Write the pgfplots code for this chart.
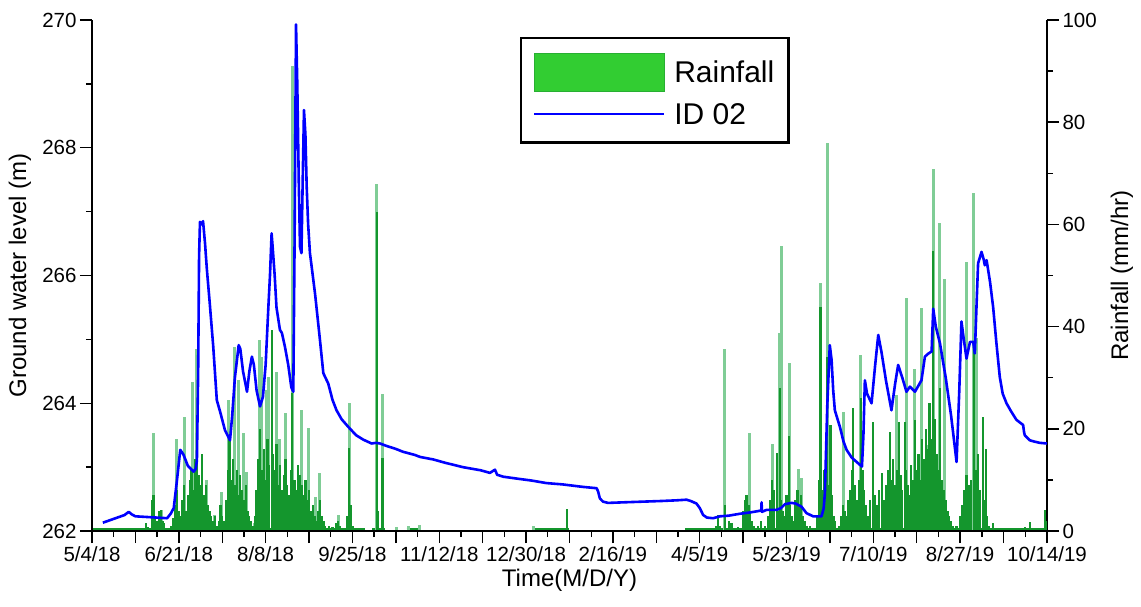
\documentclass[border=0pt]{standalone}
\usepackage{pgfplots}
\pgfplotsset{compat=1.18}
\usepackage{fontspec}
\setmainfont{Liberation Sans}
\definecolor{rainlight}{RGB}{128,205,150}
\definecolor{raindark}{RGB}{20,150,45}
\definecolor{legfill}{RGB}{50,205,50}
\definecolor{legdraw}{RGB}{40,175,50}
\begin{document}
\begin{tikzpicture}
\pgfplotsset{
  common/.style={
    scale only axis, width=955pt, height=511pt,
    xmin=0, xmax=528,
    tick align=outside,
    major tick length=12pt, minor tick length=6pt,
    tick style={line width=1.4pt, black},
    axis line style={line width=1.6pt},
    ticklabel style={font=\fontsize{20.5}{24}\selectfont},
    /pgf/number format/assume math mode=true,
    label style={font=\fontsize{24}{28}\selectfont},
  }
}
% ---------- rainfall (right axis) ----------
\begin{axis}[common,
  axis x line=none, axis y line*=right,
  ymin=0, ymax=100, ytick={0,20,...,100}, minor ytick={10,30,...,90},
  ylabel={Rainfall (mm/hr)},
  ylabel style={at={(axis description cs:1.0785,0.5)}, anchor=center},
]
% baseline of recorded (zero) rainfall
\addplot[raindark, line width=3pt, forget plot] coordinates {(0,0.35) (151,0.35)};
\addplot[raindark, line width=3pt, forget plot] coordinates {(155,0.35) (162,0.35)};
\addplot[raindark, line width=3pt, forget plot] coordinates {(174,0.35) (182,0.35)};
\addplot[raindark, line width=3pt, forget plot] coordinates {(243.5,0.35) (263.5,0.35)};
\addplot[raindark, line width=3pt, forget plot] coordinates {(328,0.35) (528,0.35)};
% light (tall) bars
\addplot[ycomb, rainlight, line width=3pt, forget plot] coordinates {
(33.9,19.1) (38.5,4.2) (46.8,18.1) (51.4,22.4) (55.7,29.2) (57.9,35.7) (63.4,10) (68.0,3.1)
(71.7,7.7) (75.3,25.6) (79.0,36.1) (80.9,29.5) (84.0,19.1) (85.5,11.6) (89.6,1.5) (92.5,37.4)
(93.8,34.1) (96.6,27.6) (97.5,30.2) (102.1,31.2) (103.9,18.1) (107.0,23.0) (110.7,90.9)
(115.9,23.7) (119.6,20.1) (123.3,6.7) (126,11.3) (136.2,3.1) (142.2,25.1) (157.4,68) (160.6,26.9)
(168.4,0.8) (174.9,1) (181.3,1.2) (243.9,1)
(349.9,35.7) (363.7,19.1) (376.2,17) (380.3,38.7) (381.2,55.8) (385.4,32.8) (390.4,12.1)
(392.2,10.3) (402.8,48.5) (406.4,75.9) (415.3,23.2) (425.1,34.4) (444.7,26.6) (450.3,45.5)
(455,31.8) (458.6,43.6) (461.4,16.8) (465.1,70.9) (468.8,60.2) (471.5,49.4) (483.5,52.7)
(487.6,66.2) (489,37.7)
};
% dark (dense) bars
\addplot[ycomb, raindark, line width=2.2pt, forget plot] coordinates {
(30,1.5) (31,0.8) (33,6) (34,7) (35,3) (36,2) (37,4) (38,4.2) (39,2) (40,1.5) (42,0.5) (44,1)
(45,2.5) (46,5) (47,8) (48,4) (49,3) (50,6) (51,9) (52,4) (53,7) (54,10) (55,12) (56,8) (57,14)
(58,16) (59,11) (60,9) (61,15) (62,7) (63,9) (64,5) (65,4) (66,3) (67,2) (68,3) (69,1) (70,2)
(71,5) (72,3) (73,2) (74,6) (75,12) (76,18) (77,10) (78,14) (79,9) (80,12) (81,7) (82,11) (83,8)
(84,6) (85,9) (86,4) (87,3) (88,2) (89,1) (90,3) (91,8) (92,14) (93,20) (94,12) (95,16) (96,10)
(97,18) (98,13) (99.3,39.3) (100,15) (101,12) (102,17) (103,9) (104,13) (105,8) (106,11) (107,14)
(108,9) (109,7) (110,12) (110.7,27) (112,10) (113,8) (114,13) (115,11) (116,9) (117,7) (118,10)
(119,6) (120,8) (121,4) (122,5) (123,3) (124,2) (125,4) (126,6) (127,3) (128,2) (129,1) (131,1)
(133,0.8) (135,1.5) (136,2) (137,1) (141,3) (142.2,16.2) (143,5) (144,1) (157.4,62.5) (158,4)
(160.6,14.2) (161,3) (262.4,4.4)
(345,1) (346.2,3.1) (347,1) (350,5) (352,2) (353.6,1.5) (357,0.8) (360,4) (361,6) (361.9,7)
(363,5) (364,4) (365,2) (366,1) (368,1) (370,2) (372,1) (374,3) (375,6) (376,10) (377,8)
(378.8,15.2) (379,4) (380.3,28) (381,6) (382,4) (383,3) (384,7) (385.4,18.5) (386,5) (387,3)
(388,2) (389,6) (390,8) (391,5) (392,7) (393,3) (394,2) (395,1) (397,1) (399,0.5) (401,3) (402,10)
(402.8,43.9) (404,8) (405,12) (406.4,34) (407,9) (408.3,20.7) (409,7) (410,3) (411,2) (413,1)
(414,3) (415,5) (416,4) (417,3) (418,6) (419,8) (420,12) (420.8,24) (422,9) (423,6) (424,10)
(425.1,26) (426,12) (427,8) (428,5) (429,3) (430,6) (431.6,21.4) (432,10) (433,7) (434,5) (435,8)
(436.6,11.3) (438,6) (439,9) (440,12) (441.1,19.4) (442,10) (443,14) (444,9) (445,12) (446.3,21.4)
(447,11) (448,8) (449.4,21.4) (450,12) (451,9) (452,7) (453,13) (454,10) (455,21.7) (456,12)
(457,15) (458,10) (459,18) (460,14) (461,20) (462,16) (463,25) (464,18) (465.1,54.7) (466,22)
(467,15) (468,12) (468.8,27.9) (470,10) (471,8) (472,6) (473,4) (474,3) (475,2) (476,1) (478,1)
(480,3) (481,5) (482,8) (483.5,11) (484,7) (485,9) (486,10) (487.6,37) (488.5,12) (489.5,10)
(490,15) (491,8) (492.7,22.4) (493,6) (494.2,16) (495,3) (496,1) (498.2,1.5) (500,0.5) (510,0.5)
(516,0.8) (518.5,1.8) (522,0.5) (526.8,4.1) (527.5,2)
};
\end{axis}
% ---------- ground water level (left axis) ----------
\begin{axis}[common,
  axis x line*=bottom, axis y line*=left,
  ymin=262, ymax=270, ytick={262,264,...,270}, minor ytick={263,265,...,269},
  xtick={0,24,...,528},
  xticklabels={5/4/18,,6/21/18,,8/8/18,,9/25/18,,11/12/18,,12/30/18,,2/16/19,,4/5/19,,5/23/19,,7/10/19,,8/27/19,,10/14/19},
  minor xtick={12,36,...,516},
  xlabel={Time(M/D/Y)},
  xlabel style={at={(axis description cs:0.5,-0.0959)}, anchor=center},
  ylabel={Ground water level (m)},
  ylabel style={at={(axis description cs:-0.0754,0.5)}, anchor=center},
  legend style={at={(axis description cs:0.448,0.967)}, anchor=north west,
    draw=black, line width=2.5pt, font=\fontsize{30}{34}\selectfont,
    inner xsep=12pt, inner ysep=15pt, row sep=9pt,
    /tikz/every odd column/.append style={column sep=7pt}},
  legend cell align=left,
]
\addlegendimage{legend image code/.code={\draw[fill=legfill, draw=legdraw, line width=1pt] (0pt,-19pt) rectangle (130pt,19pt);}}
\addlegendentry{Rainfall}
\addplot[blue, line width=2.6pt, line join=round,
  legend image code/.code={\draw[blue, line width=2.2pt] (0pt,0pt) -- (130pt,0pt);}] coordinates {
(6,262.13) (10,262.17) (14,262.21) (18,262.25) (20.3,262.30) (22,262.26) (24,262.23) (30,262.22)
(36,262.21) (41.5,262.20) (43.5,262.27) (45.2,262.36) (47,262.8) (48.8,263.27) (50.5,263.2)
(53,263.02) (56.2,262.93) (57.3,262.97) (58.0,263.1) (58.7,264.5) (59.2,266.3) (59.7,266.84)
(60.5,266.80) (61.4,266.85) (62.5,266.5) (63.5,266.1) (65,265.6) (67,264.9) (69,264.05) (71,263.85)
(73.5,263.58) (76.3,263.42) (77.5,263.8) (79,264.4) (81.1,264.91) (82,264.85) (83.5,264.5)
(85.7,264.18) (87,264.5) (88.4,264.73) (89.5,264.6) (91,264.2) (92.9,263.95) (94.5,264.1)
(96,264.6) (97.5,265.5) (98.4,266.0) (99.3,266.66) (100,266.4) (101,266.0) (102,265.5)
(103.9,265.15) (105,265.1) (106.7,264.88) (108.5,264.6) (110.2,264.25) (111.3,264.18) (112,266.5)
(112.8,269.93) (113.5,269.0) (114.3,267.5) (115,266.45) (115.8,266.35) (116.5,267.5) (117.2,268.59)
(118,268.2) (118.7,267.39) (119.5,266.8) (120.5,266.35) (123.3,265.72) (126,265.0) (127.9,264.47)
(130.6,264.31) (133,264.05) (135.2,263.89) (138,263.75) (141.7,263.63) (146,263.5) (150,263.43)
(154.6,263.37) (157,263.38) (159.2,263.37) (163,263.33) (167.5,263.29) (172,263.24) (178.6,263.19)
(181.3,263.16) (188.7,263.12) (195,263.07) (205,263.0) (215,262.95) (220,262.91) (222.8,262.96)
(224,262.88) (227.4,262.85) (235,262.82) (243,262.79) (251.3,262.75) (260,262.73) (271.6,262.69)
(279,262.67) (279.8,262.62) (280.8,262.51) (282.5,262.46) (285.4,262.44) (295,262.45) (305,262.46)
(315,262.47) (323,262.48) (328.7,262.49) (331,262.47) (334.2,262.43) (336,262.36) (337.9,262.25)
(340,262.21) (343.4,262.20) (347.2,262.23) (352,262.24) (358.2,262.27) (363.7,262.29) (370,262.32)
(370.2,262.45) (370.4,262.30) (372.9,262.33) (378.5,262.33) (381,262.36) (383.1,262.42)
(386.8,262.44) (389,262.43) (392.3,262.38) (395,262.28) (398.7,262.23) (403.3,262.23)
(404.5,262.35) (405.2,262.59) (406.5,263.95) (407.9,264.91) (408.9,264.68) (409.8,264.2)
(410.7,263.89) (413.5,263.63) (415.5,263.4) (417.2,263.27) (420,263.15) (424.8,263.03)
(425.7,263.01) (426.5,263.5) (427.3,264.36) (428.5,264.15) (431,264.0) (433,264.6) (434.7,265.07)
(436.5,264.8) (439,264.35) (442,263.89) (444,264.3) (445.7,264.60) (448,264.4) (450.3,264.18)
(452.2,264.26) (455,264.18) (458.6,264.36) (460.5,264.73) (462.5,264.78) (464.2,264.81)
(465.1,265.48) (466.5,265.2) (468.8,264.94) (472,264.4) (475,263.8) (478,263.08) (479.5,264.2)
(480.7,265.28) (482,265.0) (483.5,264.70) (485.4,264.96) (487.2,264.96) (488.1,264.78) (489,265.5)
(489.9,266.19) (491.8,266.37) (493,266.25) (493.6,266.16) (494.6,266.24) (496.5,265.9)
(498.2,265.51) (500,264.95) (501.9,264.41) (503.5,264.15) (505.6,264.0) (508,263.88)
(511.1,263.74) (514.8,263.66) (515.3,263.55) (515.7,263.50) (518.5,263.42) (521,263.40)
(524,263.38) (528,263.37)
};
\addlegendentry{ID 02\rule[-20pt]{0pt}{20pt}}
\end{axis}
\path ([xshift=-92pt,yshift=-75pt]current axis.south west) rectangle ([xshift=94pt,yshift=20pt]current axis.north east);
\end{tikzpicture}
\end{document}
